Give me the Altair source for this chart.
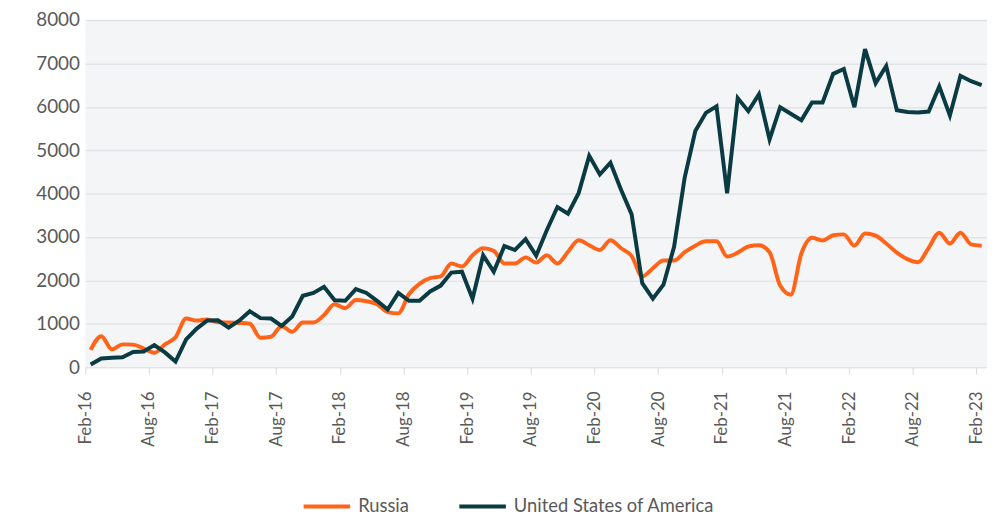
import altair as alt
import pandas as pd

# ---- data ----
tick_labels = ["Feb-16", "Aug-16", "Feb-17", "Aug-17", "Feb-18", "Aug-18", "Feb-19",
               "Aug-19", "Feb-20", "Aug-20", "Feb-21", "Aug-21", "Feb-22", "Aug-22", "Feb-23"]

months = pd.date_range("2016-02-01", "2023-02-01", freq="MS").strftime("%b-%y").tolist()

russia = [400, 715, 410, 525, 520, 430, 330, 525, 690, 1120,
          1075, 1100, 1035, 1030, 1020, 1000, 680, 700, 945, 815,
          1030, 1030, 1200, 1450, 1360, 1550, 1520, 1450, 1270, 1240,
          1680, 1920, 2050, 2090, 2390, 2320, 2580, 2740, 2680, 2390,
          2390, 2530, 2410, 2580, 2390, 2660, 2925, 2810, 2700, 2925,
          2740, 2560, 2090, 2280, 2460, 2460, 2650, 2800, 2900, 2900,
          2550, 2640, 2780, 2810, 2650, 1880, 1670, 2620, 2980, 2920,
          3040, 3060, 2800, 3080, 3030, 2850, 2640, 2490, 2420, 2750,
          3100, 2850, 3100, 2830, 2800]

usa = [60, 200, 215, 230, 350, 360, 510, 340, 130, 640,
       890, 1075, 1080, 910, 1070, 1290, 1130, 1120, 950, 1170,
       1645, 1710, 1850, 1540, 1530, 1800, 1710, 1530, 1330, 1710,
       1530, 1530, 1745, 1880, 2180, 2200, 1580, 2580, 2200, 2790,
       2700, 2950, 2570, 3155, 3690, 3535, 4010, 4870, 4440, 4710,
       4090, 3520, 1935, 1580, 1900, 2775, 4370, 5440, 5860, 6010,
       4010, 6200, 5900, 6290, 5250, 5990, 5840, 5690, 6100, 6100,
       6760, 6870, 5990, 7330, 6545, 6940, 5920, 5880, 5870, 5890,
       6470, 5800, 6715, 6590, 6500]

series_names = ["Russia", "United States of America"]
series_colors = ["#FF6418", "#0A3B42"]

rows = []
for name, vals in zip(series_names, [russia, usa]):
    for i, (m, v) in enumerate(zip(months, vals)):
        rows.append({"idx": i + 0.5, "month": m, "country": name, "value": v})
df = pd.DataFrame(rows)

label_expr = "[" + ",".join(f"'{t}'" for t in tick_labels) + "][round(datum.value/6)]"
FONT = "Lato"

x = alt.X(
    "idx:Q",
    scale=alt.Scale(domain=[0, len(months)], nice=False, zero=False),
    axis=alt.Axis(
        values=list(range(0, len(months), 6)), labelExpr=label_expr, labelAngle=270,
        title=None, grid=False, domain=False, ticks=True, tickSize=7,
        tickColor="#D9D9D9", tickWidth=1, labelPadding=17, labelFontSize=17,
        labelColor="#595959", labelFont=FONT,
    ),
)
y = alt.Y(
    "value:Q",
    scale=alt.Scale(domain=[0, 8000], nice=False),
    axis=alt.Axis(
        values=list(range(0, 8001, 1000)), format="d", title=None, grid=True,
        gridColor="#E2E3E6", gridWidth=1.5, domain=False, ticks=False,
        labelPadding=6, labelFontSize=19, labelColor="#595959", labelFont=FONT,
    ),
)
color = alt.Color(
    "country:N",
    scale=alt.Scale(domain=series_names, range=series_colors),
    legend=alt.Legend(
        title=None, orient="none", legendX=218, legendY=465, direction="horizontal",
        symbolType="stroke", symbolSize=2200, symbolStrokeWidth=4,
        labelFontSize=18.5, labelColor="#595959", labelFont=FONT, labelLimit=400,
        columnPadding=42, labelOffset=6,
    ),
)

base = alt.Chart(df).encode(x=x, y=y, color=color)
r_line = base.transform_filter(alt.datum.country == "Russia").mark_line(
    interpolate="monotone", strokeWidth=4)
u_line = base.transform_filter(alt.datum.country == "United States of America").mark_line(
    strokeWidth=4)

chart = (
    alt.layer(r_line, u_line)
    .properties(
        width=909, height=350,
        padding={"left": 78, "top": 10, "right": 0, "bottom": 156},
        autosize=alt.AutoSizeParams(type="none"),
    )
    .configure_view(fill="#F4F5F7", stroke=None)
)

chart.save("out.html", embed_options={"renderer": "svg", "actions": False})
